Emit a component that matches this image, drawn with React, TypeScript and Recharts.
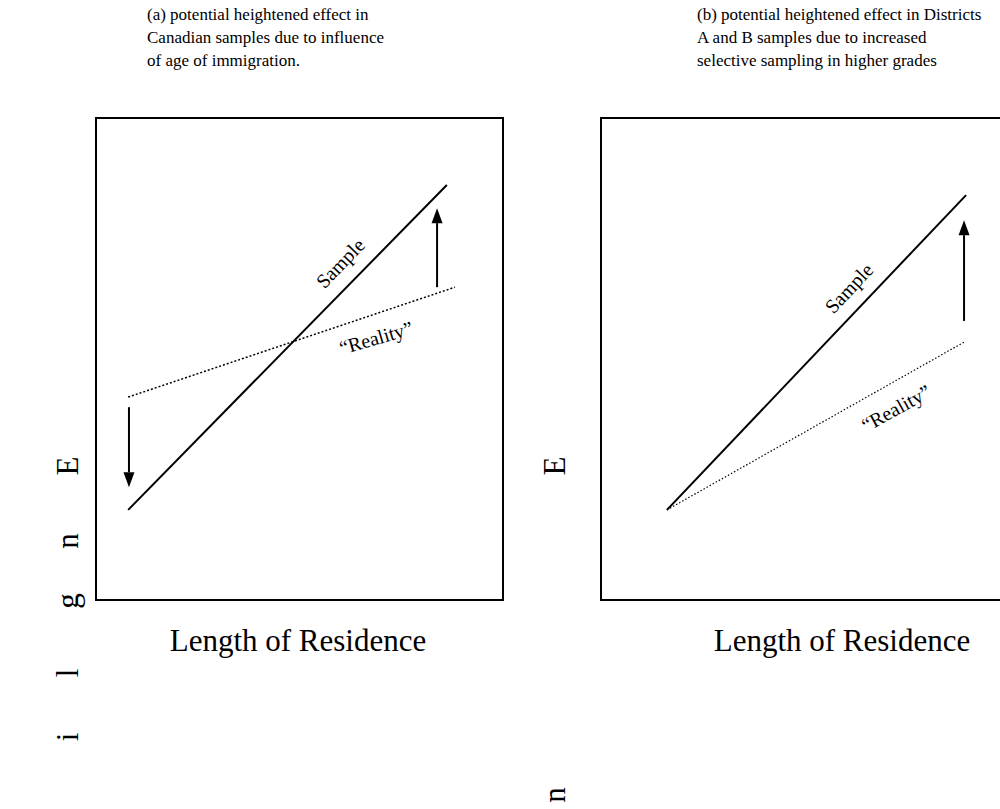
import React from "react";
import { LineChart, Line, XAxis, YAxis, ReferenceLine, ReferenceDot, ReferenceArea } from "recharts";

// panel (a): Canadian samples
const sampleA = [
  { x: 7.9, y: 18.7 },
  { x: 86.2, y: 86.1 },
];
const realityA = [
  { x: 7.9, y: 42.1 },
  { x: 88.2, y: 64.9 },
];
const arrowsA = [
  { x: 8.1, from: 40.0, to: 23.4 },
  { x: 83.8, from: 64.9, to: 81.3 },
];

// panel (b): Districts A and B
const sampleB = [
  { x: 16.2, y: 18.7 },
  { x: 89.7, y: 84.0 },
];
const realityB = [
  { x: 16.2, y: 18.7 },
  { x: 89.2, y: 53.5 },
];
const arrowsB = [{ x: 89.2, from: 57.9, to: 78.8 }];

const titleA = [
  "(a) potential heightened effect in",
  "Canadian samples due to influence",
  "of age of immigration.",
];
const titleB = [
  "(b) potential heightened effect in Districts",
  "A and B samples due to increased",
  "selective sampling in higher grades",
];
const xLabel = "Length of Residence";
const leftLetters = ["E", "n", "g", "l", "i"];
const midLetters = ["E", "n"];

const serif = "'Liberation Serif', 'Times New Roman', serif";

type Arrow = { x: number; from: number; to: number };
type Tag = { text: string; x: number; y: number; angle: number };

const arrowShape = (p: any) => {
  const { x1, y1, x2, y2 } = p;
  const dx = x2 - x1;
  const dy = y2 - y1;
  const len = Math.hypot(dx, dy) || 1;
  const ux = dx / len;
  const uy = dy / len;
  const head = 15;
  const half = 5.5;
  const bx = x2 - ux * head;
  const by = y2 - uy * head;
  return (
    <g>
      <line x1={x1} y1={y1} x2={bx} y2={by} stroke="#000" strokeWidth={2} />
      <polygon
        points={`${x2},${y2} ${bx - uy * half},${by + ux * half} ${bx + uy * half},${by - ux * half}`}
        fill="#000"
      />
    </g>
  );
};

const tagShape = (t: Tag) => (p: any) => (
  <text
    x={p.cx}
    y={p.cy}
    transform={`rotate(${t.angle} ${p.cx} ${p.cy})`}
    textAnchor="middle"
    dominantBaseline="central"
    fontFamily={serif}
    fontSize={20}
    fill="#000"
  >
    {t.text}
  </text>
);

function Panel({
  left,
  sample,
  reality,
  arrows,
  tags,
  dash,
  dashWidth,
}: {
  left: number;
  sample: { x: number; y: number }[];
  reality: { x: number; y: number }[];
  arrows: Arrow[];
  tags: Tag[];
  dash: string;
  dashWidth: number;
}) {
  return (
    <div style={{ position: "absolute", left, top: 113 }}>
      <LineChart width={417} height={492} margin={{ top: 5, right: 5, bottom: 5, left: 5 }}>
        <XAxis type="number" dataKey="x" domain={[0, 100]} hide />
        <YAxis type="number" domain={[0, 100]} hide />
        <ReferenceArea x1={0} x2={100} y1={0} y2={100} fill="none" fillOpacity={0} stroke="#000" strokeWidth={2} />
        <Line
          data={reality}
          dataKey="y"
          stroke="#000"
          strokeWidth={dashWidth}
          strokeDasharray={dash}
          dot={false}
          activeDot={false}
          isAnimationActive={false}
        />
        <Line
          data={sample}
          dataKey="y"
          stroke="#000"
          strokeWidth={2}
          dot={false}
          activeDot={false}
          isAnimationActive={false}
        />
        {arrows.map((a, i) => (
          <ReferenceLine
            key={i}
            segment={[
              { x: a.x, y: a.from },
              { x: a.x, y: a.to },
            ]}
            shape={arrowShape}
          />
        ))}
        {tags.map((t, i) => (
          <ReferenceDot key={i} x={t.x} y={t.y} r={0} shape={tagShape(t)} />
        ))}
      </LineChart>
    </div>
  );
}

function Letter({ ch, cx, cy }: { ch: string; cx: number; cy: number }) {
  return (
    <div
      style={{
        position: "absolute",
        left: cx,
        top: cy,
        transform: "translate(-50%, -50%) rotate(-90deg)",
        fontSize: 31,
        lineHeight: "34px",
      }}
    >
      {ch}
    </div>
  );
}

export default function App() {
  const leftY = [466, 541, 601, 673, 737];
  const midY = [466, 795];
  return (
    <div
      style={{
        position: "absolute",
        left: 0,
        top: 0,
        width: 1000,
        height: 809,
        overflow: "hidden",
        background: "#fff",
        fontFamily: serif,
        color: "#000",
      }}
    >
      <div style={{ position: "absolute", left: 147, top: 3, fontSize: 17, lineHeight: "23px", whiteSpace: "nowrap" }}>
        {titleA.map((l, i) => (
          <div key={i}>{l}</div>
        ))}
      </div>
      <div style={{ position: "absolute", left: 697, top: 3, fontSize: 17, lineHeight: "23px", whiteSpace: "nowrap" }}>
        {titleB.map((l, i) => (
          <div key={i}>{l}</div>
        ))}
      </div>

      <Panel
        left={91}
        sample={sampleA}
        reality={realityA}
        arrows={arrowsA}
        dash="2 2"
        dashWidth={1.5}
        tags={[
          { text: "Sample", x: 60, y: 69.9, angle: -46 },
          { text: "\u201cReality\u201d", x: 68.8, y: 54.4, angle: -16 },
        ]}
      />
      <Panel
        left={596}
        sample={sampleB}
        reality={realityB}
        arrows={arrowsB}
        dash="1.5 2"
        dashWidth={1.2}
        tags={[
          { text: "Sample", x: 60.9, y: 64.7, angle: -47 },
          { text: "\u201cReality\u201d", x: 72.5, y: 39.8, angle: -29 },
        ]}
      />

      <div style={{ position: "absolute", left: 98, width: 400, top: 623, textAlign: "center", fontSize: 31, lineHeight: "36px" }}>
        {xLabel}
      </div>
      <div style={{ position: "absolute", left: 642, width: 400, top: 623, textAlign: "center", fontSize: 31, lineHeight: "36px" }}>
        {xLabel}
      </div>

      {leftLetters.map((ch, i) => (
        <Letter key={"l" + i} ch={ch} cx={68} cy={leftY[i]} />
      ))}
      {midLetters.map((ch, i) => (
        <Letter key={"m" + i} ch={ch} cx={555} cy={midY[i]} />
      ))}
    </div>
  );
}
